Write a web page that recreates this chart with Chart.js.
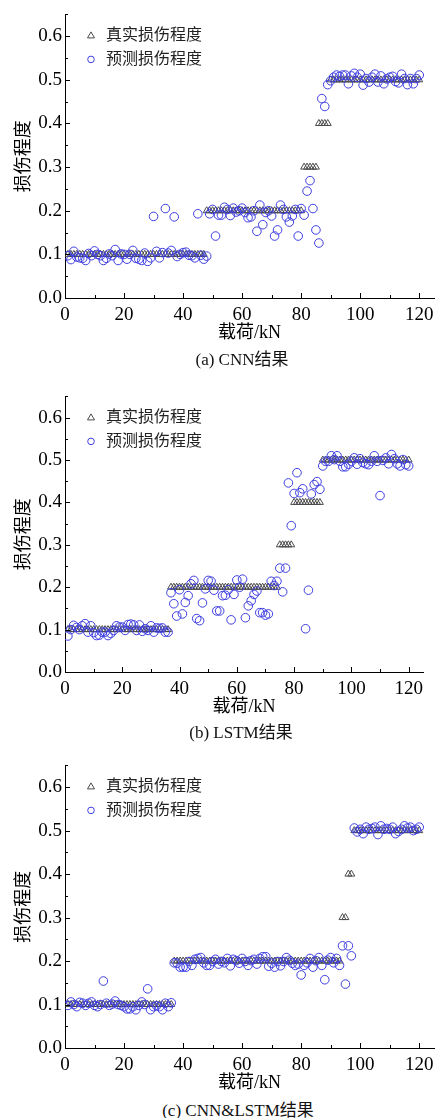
<!DOCTYPE html>
<html>
<head>
<meta charset="utf-8">
<script src="https://cdn.jsdelivr.net/npm/chart.js@4.4.1/dist/chart.umd.min.js"></script>
<style>
body { margin: 0; background: #fff; }
#page { position: relative; width: 443px; height: 1118px; overflow: hidden; }
canvas { position: absolute; left: 0; }
.cap { position: absolute; transform: translate(-50%, -50%); font: 17px 'Liberation Serif', 'Noto Sans CJK SC', serif; white-space: nowrap; color: #111; }
</style>
</head>
<body>
<div id="page">
  <canvas id="cnn" width="443" height="345" style="top:0px"></canvas>
  <div class="cap" style="left:242px;top:357px">(a) CNN结果</div>
  <canvas id="lstm" width="443" height="337" style="top:382px"></canvas>
  <div class="cap" style="left:241px;top:730px">(b) LSTM结果</div>
  <canvas id="mix" width="443" height="344" style="top:751px"></canvas>
  <div class="cap" style="left:238px;top:1108px">(c) CNN&amp;LSTM结果</div>
</div>
<script>
// load steps (kN)
const loads = [
  1,2,3,4,5,6,7,8,9,10, 11,12,13,14,15,16,17,18,19,20,
  21,22,23,24,25,26,27,28,29,30, 31,32,33,34,35,36,37,38,39,40,
  41,42,43,44,45,46,47,48,49,50, 51,52,53,54,55,56,57,58,59,60,
  61,62,63,64,65,66,67,68,69,70, 71,72,73,74,75,76,77,78,79,80,
  81,82,83,84,85,86,87,88,89,90, 91,92,93,94,95,96,97,98,99,100,
  101,102,103,104,105,106,107,108,109,110, 111,112,113,114,115,116,117,118,119,120
];

const xTicks = [0, 20, 40, 60, 80, 100, 120];
const xMinor = [10, 30, 50, 70, 90, 110];
const yTicks = [0.1, 0.2, 0.3, 0.4, 0.5, 0.6];
const yMinor = [0.05, 0.15, 0.25, 0.35, 0.45, 0.55, 0.65];

const labelTrue = '真实损伤程度';
const labelPred = '预测损伤程度';

// (a) CNN
const trueCnn = [
  0.1,0.1,0.1,0.1,0.1,0.1,0.1,0.1,0.1,0.1,
  0.1,0.1,0.1,0.1,0.1,0.1,0.1,0.1,0.1,0.1,
  0.1,0.1,0.1,0.1,0.1,0.1,0.1,0.1,0.1,0.1,
  0.1,0.1,0.1,0.1,0.1,0.1,0.1,0.1,0.1,0.1,
  0.1,0.1,0.1,0.1,0.1,0.1,0.1,0.2,0.2,0.2,
  0.2,0.2,0.2,0.2,0.2,0.2,0.2,0.2,0.2,0.2,
  0.2,0.2,0.2,0.2,0.2,0.2,0.2,0.2,0.2,0.2,
  0.2,0.2,0.2,0.2,0.2,0.2,0.2,0.2,0.2,0.2,
  0.3,0.3,0.3,0.3,0.3,0.4,0.4,0.4,0.4,0.5,
  0.5,0.5,0.5,0.5,0.5,0.5,0.5,0.5,0.5,0.5,
  0.5,0.5,0.5,0.5,0.5,0.5,0.5,0.5,0.5,0.5,
  0.5,0.5,0.5,0.5,0.5,0.5,0.5,0.5,0.5,0.5
];
const predCnn = [
  0.097,0.088,0.107,0.094,0.092,0.091,0.086,0.102,0.097,0.108,
  0.100,0.097,0.086,0.091,0.101,0.097,0.111,0.086,0.101,0.100,
  0.089,0.100,0.109,0.091,0.089,0.086,0.103,0.084,0.092,0.187,
  0.107,0.092,0.104,0.205,0.103,0.109,0.186,0.095,0.100,0.104,
  0.105,0.098,0.097,0.092,0.193,0.098,0.089,0.096,0.193,0.203,
  0.142,0.190,0.190,0.208,0.203,0.189,0.206,0.197,0.200,0.206,
  0.196,0.184,0.186,0.200,0.153,0.213,0.168,0.196,0.200,0.188,
  0.142,0.156,0.213,0.203,0.186,0.174,0.188,0.203,0.142,0.205,
  0.190,0.245,0.269,0.205,0.156,0.126,0.457,0.439,0.489,0.498,
  0.506,0.511,0.508,0.511,0.511,0.491,0.509,0.515,0.506,0.513,
  0.488,0.503,0.495,0.506,0.513,0.495,0.509,0.491,0.502,0.506,
  0.508,0.496,0.493,0.513,0.503,0.489,0.503,0.491,0.503,0.511
];

// (b) LSTM
const trueLstm = [
  0.1,0.1,0.1,0.1,0.1,0.1,0.1,0.1,0.1,0.1,
  0.1,0.1,0.1,0.1,0.1,0.1,0.1,0.1,0.1,0.1,
  0.1,0.1,0.1,0.1,0.1,0.1,0.1,0.1,0.1,0.1,
  0.1,0.1,0.1,0.1,0.1,0.1,0.2,0.2,0.2,0.2,
  0.2,0.2,0.2,0.2,0.2,0.2,0.2,0.2,0.2,0.2,
  0.2,0.2,0.2,0.2,0.2,0.2,0.2,0.2,0.2,0.2,
  0.2,0.2,0.2,0.2,0.2,0.2,0.2,0.2,0.2,0.2,
  0.2,0.2,0.2,0.2,0.3,0.3,0.3,0.3,0.3,0.4,
  0.4,0.4,0.4,0.4,0.4,0.4,0.4,0.4,0.4,0.5,
  0.5,0.5,0.5,0.5,0.5,0.5,0.5,0.5,0.5,0.5,
  0.5,0.5,0.5,0.5,0.5,0.5,0.5,0.5,0.5,0.5,
  0.5,0.5,0.5,0.5,0.5,0.5,0.5,0.5,0.5,0.5
];
const predLstm = [
  0.085,0.100,0.110,0.105,0.100,0.109,0.114,0.094,0.109,0.093,
  0.086,0.087,0.094,0.094,0.086,0.091,0.098,0.109,0.106,0.106,
  0.098,0.112,0.113,0.111,0.098,0.111,0.096,0.102,0.098,0.109,
  0.094,0.104,0.103,0.104,0.094,0.094,0.187,0.161,0.132,0.194,
  0.137,0.164,0.180,0.208,0.216,0.126,0.121,0.163,0.196,0.216,
  0.214,0.193,0.144,0.144,0.180,0.181,0.194,0.123,0.183,0.217,
  0.200,0.219,0.128,0.156,0.168,0.183,0.191,0.140,0.140,0.134,
  0.137,0.214,0.204,0.214,0.245,0.189,0.245,0.446,0.345,0.421,
  0.470,0.423,0.432,0.102,0.193,0.420,0.442,0.449,0.431,0.486,
  0.497,0.497,0.510,0.501,0.510,0.497,0.484,0.484,0.490,0.497,
  0.505,0.490,0.503,0.494,0.491,0.489,0.497,0.510,0.497,0.416,
  0.499,0.505,0.491,0.513,0.503,0.491,0.486,0.501,0.489,0.486
];

// (c) CNN&LSTM
const trueMix = [
  0.1,0.1,0.1,0.1,0.1,0.1,0.1,0.1,0.1,0.1,
  0.1,0.1,0.1,0.1,0.1,0.1,0.1,0.1,0.1,0.1,
  0.1,0.1,0.1,0.1,0.1,0.1,0.1,0.1,0.1,0.1,
  0.1,0.1,0.1,0.1,0.1,0.1,0.2,0.2,0.2,0.2,
  0.2,0.2,0.2,0.2,0.2,0.2,0.2,0.2,0.2,0.2,
  0.2,0.2,0.2,0.2,0.2,0.2,0.2,0.2,0.2,0.2,
  0.2,0.2,0.2,0.2,0.2,0.2,0.2,0.2,0.2,0.2,
  0.2,0.2,0.2,0.2,0.2,0.2,0.2,0.2,0.2,0.2,
  0.2,0.2,0.2,0.2,0.2,0.2,0.2,0.2,0.2,0.2,
  0.2,0.2,0.2,0.3,0.3,0.4,0.4,0.5,0.5,0.5,
  0.5,0.5,0.5,0.5,0.5,0.5,0.5,0.5,0.5,0.5,
  0.5,0.5,0.5,0.5,0.5,0.5,0.5,0.5,0.5,0.5
];
const predMix = [
  0.098,0.106,0.100,0.095,0.105,0.103,0.098,0.103,0.106,0.098,
  0.095,0.100,0.154,0.103,0.098,0.101,0.108,0.100,0.098,0.095,
  0.090,0.090,0.095,0.088,0.098,0.106,0.100,0.136,0.088,0.095,
  0.097,0.095,0.088,0.103,0.095,0.104,0.196,0.195,0.186,0.186,
  0.186,0.199,0.190,0.204,0.206,0.208,0.196,0.190,0.190,0.199,
  0.204,0.193,0.199,0.196,0.206,0.189,0.204,0.201,0.195,0.206,
  0.199,0.190,0.201,0.204,0.193,0.206,0.210,0.210,0.188,0.195,
  0.186,0.199,0.189,0.199,0.208,0.202,0.195,0.190,0.193,0.168,
  0.190,0.196,0.206,0.186,0.201,0.208,0.190,0.157,0.202,0.208,
  0.196,0.206,0.190,0.235,0.147,0.235,0.212,0.506,0.497,0.503,
  0.493,0.508,0.503,0.505,0.508,0.491,0.511,0.503,0.505,0.503,
  0.508,0.493,0.498,0.503,0.511,0.506,0.508,0.500,0.503,0.508
];

const serif = "'Liberation Serif', 'Noto Sans CJK SC', serif";
const predColor = '#3d3de0';
const trueColor = '#4a4a4a';

function pts(vals) {
  return vals.map((v, i) => ({ x: loads[i], y: v }));
}

// inward ticks + legend inside the plot
const frame = {
  id: 'frame',
  afterDraw(chart) {
    const ctx = chart.ctx;
    const xs = chart.scales.x, ys = chart.scales.y;
    const a = chart.chartArea;
    ctx.save();
    ctx.strokeStyle = '#000';
    ctx.lineWidth = 1;
    ctx.beginPath();
    yTicks.forEach(v => { const p = Math.round(ys.getPixelForValue(v)) + 0.5; ctx.moveTo(a.left, p); ctx.lineTo(a.left + 5, p); });
    yMinor.forEach(v => { const p = Math.round(ys.getPixelForValue(v)) + 0.5; ctx.moveTo(a.left, p); ctx.lineTo(a.left + 3, p); });
    xTicks.forEach(v => { const p = Math.round(xs.getPixelForValue(v)) + 0.5; ctx.moveTo(p, a.bottom); ctx.lineTo(p, a.bottom - 5); });
    xMinor.forEach(v => { const p = Math.round(xs.getPixelForValue(v)) + 0.5; ctx.moveTo(p, a.bottom); ctx.lineTo(p, a.bottom - 3); });
    ctx.stroke();

    // legend
    const lx = 91, ly1 = a.top + 21, ly2 = a.top + 45;
    ctx.strokeStyle = trueColor;
    ctx.beginPath();
    ctx.moveTo(lx, ly1 - 3.5);
    ctx.lineTo(lx + 3.5, ly1 + 2.5);
    ctx.lineTo(lx - 3.5, ly1 + 2.5);
    ctx.closePath();
    ctx.stroke();
    ctx.strokeStyle = predColor;
    ctx.beginPath();
    ctx.arc(lx, ly2, 3.3, 0, Math.PI * 2);
    ctx.stroke();
    ctx.fillStyle = '#222';
    ctx.font = '16px ' + serif;
    ctx.textBaseline = 'middle';
    ctx.textAlign = 'left';
    ctx.fillText(chart.data.datasets[1].label, 106, ly1);
    ctx.fillText(chart.data.datasets[0].label, 106, ly2);
    ctx.restore();
  }
};

function makeChart(id, trueVals, predVals, padRight) {
  new Chart(document.getElementById(id), {
    type: 'scatter',
    data: {
      datasets: [{
        label: labelPred,
        data: pts(predVals),
        pointStyle: 'circle',
        pointRadius: 4.3,
        borderWidth: 1,
        borderColor: predColor,
        backgroundColor: 'rgba(0,0,0,0)'
      }, {
        label: labelTrue,
        data: pts(trueVals),
        pointStyle: 'triangle',
        pointRadius: 4,
        borderWidth: 1,
        borderColor: trueColor,
        backgroundColor: 'rgba(0,0,0,0)'
      }]
    },
    options: {
      responsive: false,
      animation: false,
      devicePixelRatio: 1,
      layout: { padding: { top: 3, right: padRight, left: 0, bottom: 0 } },
      plugins: { legend: { display: false }, tooltip: { enabled: false } },
      scales: {
        x: {
          type: 'linear',
          min: 0, max: 125,
          afterFit: s => { s.height = 47; },
          grid: { display: false, drawTicks: false },
          border: { display: true, color: '#000', width: 1 },
          ticks: {
            stepSize: 20, includeBounds: false, autoSkip: false, maxRotation: 0,
            padding: 6, color: '#000',
            font: { family: serif, size: 19 }
          },
          title: {
            display: true, text: '载荷/kN', color: '#000',
            font: { family: serif, size: 18 },
            padding: { top: 0, bottom: 1 }
          }
        },
        y: {
          type: 'linear',
          min: 0, max: 0.65,
          afterFit: s => { s.width = 65; },
          grid: { display: false, drawTicks: false },
          border: { display: true, color: '#000', width: 1 },
          ticks: {
            stepSize: 0.1, includeBounds: false, padding: 3, color: '#000',
            font: { family: serif, size: 19 },
            callback: v => v.toFixed(1)
          },
          title: {
            display: true, text: '损伤程度', color: '#000',
            font: { family: serif, size: 18 },
            padding: { top: 13, bottom: 0 }
          }
        }
      }
    },
    plugins: [frame]
  });
}

makeChart('cnn', trueCnn, predCnn, 9);
makeChart('lstm', trueLstm, predLstm, 20);
makeChart('mix', trueMix, predMix, 9);
</script>
</body>
</html>
